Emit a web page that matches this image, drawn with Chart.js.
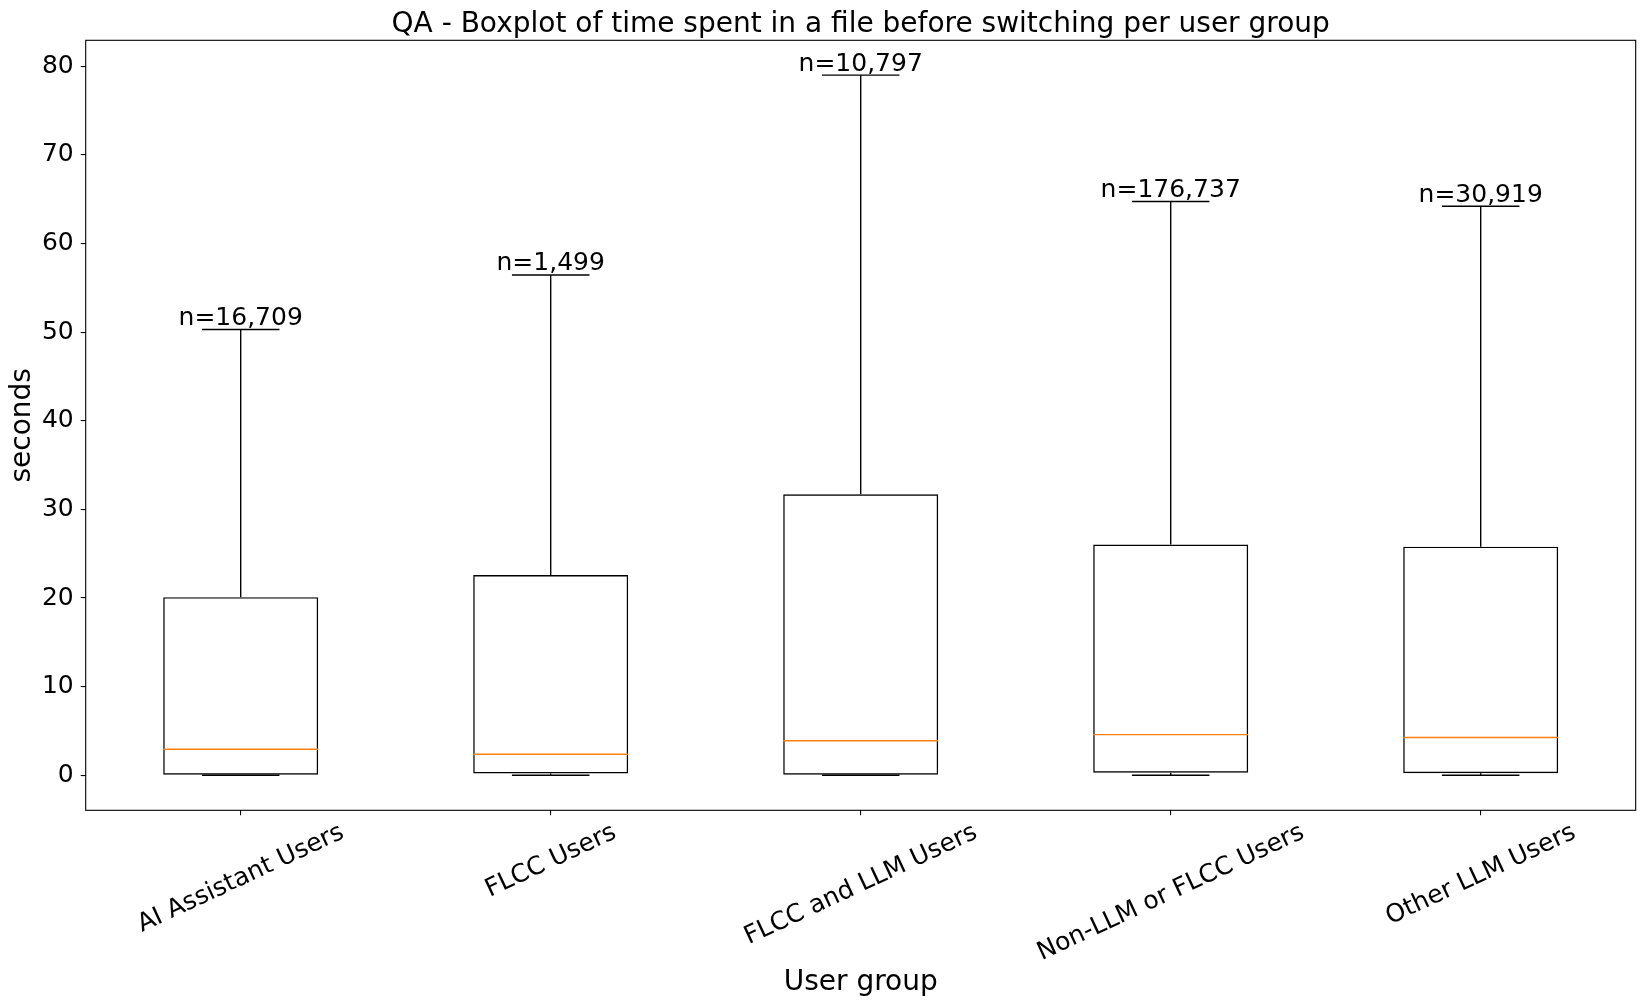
<!DOCTYPE html>
<html><head><meta charset="utf-8">
<script src="https://cdn.jsdelivr.net/npm/chart.js@4.4.1/dist/chart.umd.min.js"></script>
<style>html,body{margin:0;padding:0;background:#fff;} #wrap{width:1645px;height:1008px;position:relative;}</style>
</head><body><div id="wrap"><canvas id="c"></canvas></div>
<script>
const categories = ["AI Assistant Users", "FLCC Users", "FLCC and LLM Users", "Non-LLM or FLCC Users", "Other LLM Users"];
const whiskerLow = [0, 0, 0, 0, 0];
const q1 = [0, 0.2, 0, 0.30, 0.23];
const medians = [2.93, 2.38, 3.9, 4.59, 4.27];
const q3 = [20.1, 22.6, 31.7, 26.04, 25.8];
const whiskerHigh = [50.3, 56.45, 79.0, 64.75, 64.2];
const counts = ["n=16,709", "n=1,499", "n=10,797", "n=176,737", "n=30,919"];
const yTicks = [0, 10, 20, 30, 40, 50, 60, 70, 80];
const titleText = "QA - Boxplot of time spent in a file before switching per user group";
const xTitle = "User group";
const yTitle = "seconds";

const FONT = "'DejaVu Sans', sans-serif";

function seg(ctx, x1, y1, x2, y2) {
  ctx.beginPath(); ctx.moveTo(x1, y1); ctx.lineTo(x2, y2); ctx.stroke();
}

const boxPlugin = {
  id: 'boxExtras',
  afterDatasetsDraw(chart) {
    const {ctx, chartArea, scales: {x, y}} = chart;
    const meta = chart.getDatasetMeta(0);
    ctx.save();
    ctx.beginPath();
    ctx.rect(chartArea.left, chartArea.top, chartArea.right - chartArea.left, chartArea.bottom - chartArea.top);
    ctx.clip();
    categories.forEach((c, i) => {
      const cx = x.getPixelForValue(i);
      const bw = meta.data[i].width;
      const capHalf = bw / 4;
      ctx.strokeStyle = '#000';
      ctx.lineWidth = 1.4;
      const yHi = y.getPixelForValue(whiskerHigh[i]);
      const yLo = y.getPixelForValue(whiskerLow[i]);
      seg(ctx, cx, y.getPixelForValue(q3[i]), cx, yHi);
      seg(ctx, cx, y.getPixelForValue(q1[i]), cx, yLo);
      seg(ctx, cx - capHalf, yHi, cx + capHalf, yHi);
      seg(ctx, cx - capHalf, yLo, cx + capHalf, yLo);
      ctx.strokeStyle = '#ff7f0e';
      const ym = y.getPixelForValue(medians[i]);
      seg(ctx, cx - bw / 2, ym, cx + bw / 2, ym);
    });
    ctx.restore();
    ctx.save();
    ctx.fillStyle = '#000';
    ctx.font = "25px " + FONT;
    ctx.textAlign = 'center';
    ctx.textBaseline = 'alphabetic';
    categories.forEach((c, i) => {
      const cx = x.getPixelForValue(i);
      ctx.fillText(counts[i], cx, y.getPixelForValue(whiskerHigh[i]) - 4.5);
    });
    ctx.restore();
  },
  afterDraw(chart) {
    const {ctx, chartArea, scales: {x}} = chart;
    ctx.save();
    ctx.strokeStyle = '#000';
    ctx.lineWidth = 1.1;
    ctx.strokeRect(chartArea.left, chartArea.top, chartArea.right - chartArea.left, chartArea.bottom - chartArea.top);
    ctx.fillStyle = '#000';
    ctx.font = "28px " + FONT;
    ctx.textAlign = 'center';
    ctx.textBaseline = 'alphabetic';
    ctx.fillText(titleText, (chartArea.left + chartArea.right) / 2, chartArea.top - 8.6);
    const fs = 25;
    ctx.font = fs + "px " + FONT;
    const ang = 25 * Math.PI / 180;
    categories.forEach((lab, i) => {
      const tx = x.getPixelForTick(i);
      const w = ctx.measureText(lab).width;
      const h = 0.968 * fs;
      const vert = w * Math.sin(ang) + h * Math.cos(ang);
      const cy = chartArea.bottom + 9.7 + vert / 2;
      ctx.save();
      ctx.translate(tx, cy);
      ctx.rotate(-ang);
      ctx.textAlign = 'center';
      ctx.textBaseline = 'alphabetic';
      ctx.fillText(lab, 0, 0.276 * fs);
      ctx.restore();
    });
    ctx.restore();
  }
};

new Chart(document.getElementById('c'), {
  type: 'bar',
  data: {
    labels: categories,
    datasets: [{
      data: categories.map((c, i) => [q1[i], q3[i]]),
      backgroundColor: 'rgba(0,0,0,0)',
      borderColor: '#000',
      borderWidth: 1.4,
      borderSkipped: false,
      barPercentage: 0.5,
      categoryPercentage: 1.0
    }]
  },
  options: {
    responsive: true,
    maintainAspectRatio: false,
    animation: false,
    devicePixelRatio: 1,
    layout: {padding: {left: 0, right: 9.3, top: 40.3, bottom: 0}},
    plugins: {legend: {display: false}, tooltip: {enabled: false}, title: {display: false}},
    scales: {
      x: {
        type: 'category',
        offset: true,
        grid: {display: true, drawOnChartArea: false, drawTicks: true, tickLength: 5, color: '#000', lineWidth: 1.1, offset: false},
        border: {display: false},
        ticks: {display: false},
        title: {display: true, text: xTitle, color: '#000', font: {family: FONT, size: 28}, padding: {top: 0, bottom: 8.2}},
        afterFit(scale) { scale.height = 197.7; }
      },
      y: {
        type: 'linear',
        min: -3.95,
        max: 82.93,
        afterBuildTicks(scale) { scale.ticks = yTicks.map(v => ({value: v})); },
        grid: {display: true, drawOnChartArea: false, drawTicks: true, tickLength: 5, color: '#000', lineWidth: 1.1},
        border: {display: false},
        ticks: {color: '#000', font: {family: FONT, size: 25}, padding: 7},
        title: {display: true, text: yTitle, color: '#000', font: {family: FONT, size: 28}, padding: {top: 6.2, bottom: 0}},
        afterFit(scale) { scale.width = 85.7; }
      }
    }
  },
  plugins: [boxPlugin]
});
</script></body></html>
